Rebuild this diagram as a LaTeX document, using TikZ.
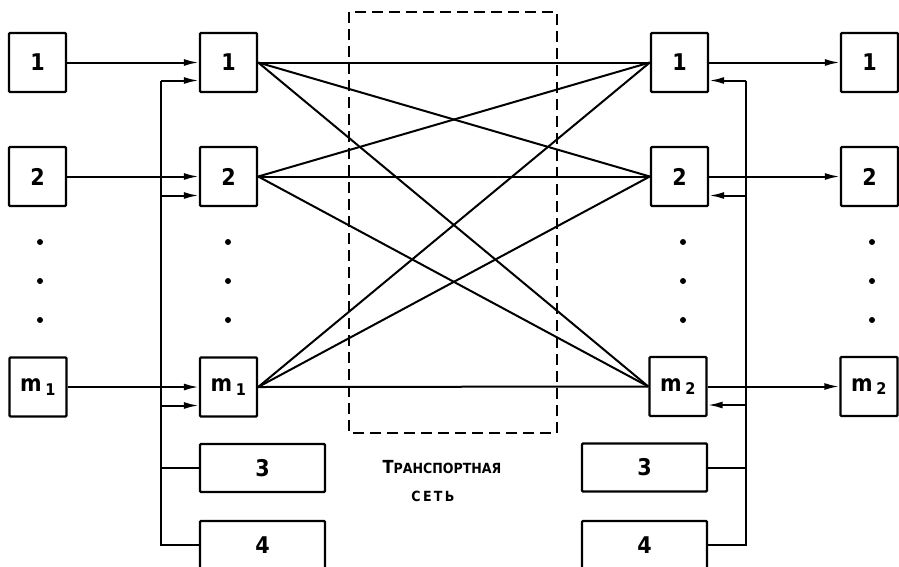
\documentclass[tikz,border=0pt]{standalone}
\usepackage{fontspec}
\setmainfont{DejaVu Sans Condensed}
\usetikzlibrary{arrows.meta,calc}
\begin{document}
\begin{tikzpicture}[x=1pt,y=-1pt,
  blk/.style={draw,line width=2.4pt,rounded corners=1pt,minimum width=57pt,minimum height=59pt,inner sep=0pt,font=\fontsize{23}{23}\selectfont\bfseries},
  wide/.style={blk,minimum width=125pt,minimum height=48pt},
  link/.style={line width=2pt},
  arr/.style={link,-{Latex[length=15pt,width=7pt]}},
  pnt/.style={circle,fill,inner sep=0pt,minimum size=6pt}]
\useasboundingbox (0,0) rectangle (899,566);
\clip (0,0) rectangle (899,566);
% sources
\node[blk] (L1) at (37.5,62.5) {1};
\node[blk] (L2) at (37.5,176.5) {2};
\node[blk] (Lm) at (38,387) {m\,\textsubscript{1}};
% transmitting stations
\node[blk] (M1) at (228.5,62.5) {1};
\node[blk] (M2) at (228.5,176.5) {2};
\node[blk] (Mm) at (228.5,387) {m\,\textsubscript{1}};
\node[wide] (B3L) at (262.5,468) {3};
\node[wide] (B4L) at (262.5,545) {4};
% receiving stations
\node[blk] (R1) at (679.5,62.5) {1};
\node[blk] (R2) at (679.5,176.5) {2};
\node[blk] (Rm) at (678,386.5) {m\,\textsubscript{2}};
\node[wide] (B3R) at (644.5,467.5) {3};
\node[wide] (B4R) at (644.5,545) {4};
% sinks
\node[blk] (F1) at (869.5,62.5) {1};
\node[blk] (F2) at (869.5,176.5) {2};
\node[blk] (Fm) at (869,386.5) {m\,\textsubscript{2}};
% dots between rows
\foreach \px in {40,228,683,872}
  \foreach \py in {242,281,320}
    \node[pnt] at (\px,\py) {};
% transport network frame
\draw[line width=1.6pt,dash pattern=on 11pt off 6pt] (349,12) rectangle (557,433);
\node[font=\bfseries,anchor=base] (tn) at (442,473) {{\fontsize{18}{18}\selectfont Т}{\fontsize{14}{14}\selectfont РАНСПОРТНАЯ}};
\node[font=\bfseries\fontsize{14}{14}\selectfont,anchor=base] (ts) at (433,501) {С\,Е\,Т\,Ь};
% inputs
\draw[arr] (L1) -- (M1);
\draw[arr] (L2) -- (M2);
\draw[arr] (Lm) -- (Mm);
% left service bus
\coordinate (busL) at (161,0);
\coordinate (a1) at ($(M1.west)+(0,18)$);
\coordinate (a2) at ($(M2.west)+(0,19)$);
\coordinate (am) at ($(Mm.west)+(0,18.5)$);
\draw[link] (busL |- a1) -- (busL |- B4L.west) -- (B4L.west);
\draw[link] (busL |- B3L.west) -- (B3L.west);
\draw[arr] (busL |- a1) -- (a1);
\draw[arr] (busL |- a2) -- (a2);
\draw[arr] (busL |- am) -- (am);
% network links
\foreach \s in {M1,M2,Mm}
  \foreach \t in {R1,R2,Rm}
    \draw[link] (\s.east) -- (\t.west);
% outputs
\draw[arr] (R1) -- (F1);
\draw[arr] (R2) -- (F2);
\draw[arr] (Rm) -- (Fm);
% right service bus
\coordinate (busR) at (746,0);
\coordinate (c1) at ($(R1.east)+(0,18)$);
\coordinate (c2) at ($(R2.east)+(0,19)$);
\coordinate (cm) at ($(Rm.east)+(0,18.5)$);
\draw[link] (busR |- c1) -- (busR |- B4R.east) -- (B4R.east);
\draw[link] (busR |- B3R.east) -- (B3R.east);
\draw[arr] (busR |- c1) -- (c1);
\draw[arr] (busR |- c2) -- (c2);
\draw[arr] (busR |- cm) -- (cm);
\end{tikzpicture}
\end{document}
